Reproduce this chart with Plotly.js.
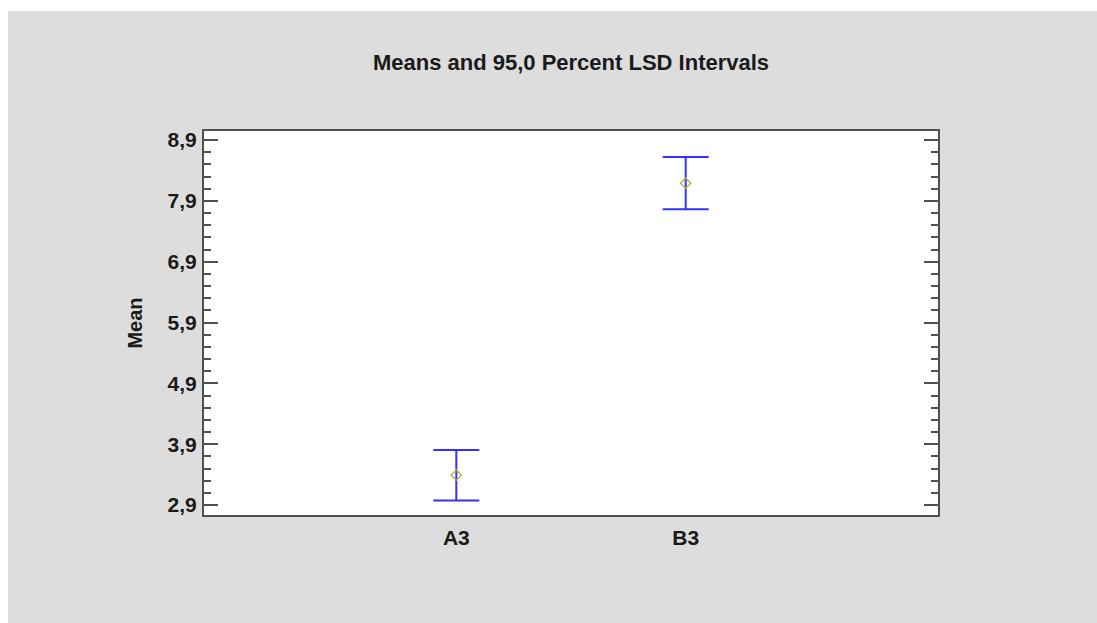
<!DOCTYPE html>
<html>
<head>
<meta charset="utf-8">
<script src="https://cdn.plot.ly/plotly-3.0.1.min.js"></script>
<style>
  html, body { margin: 0; padding: 0; background: #ffffff; width: 1097px; height: 623px; overflow: hidden; }
  #chart { position: absolute; left: 8px; top: 11px; width: 1089px; height: 612px; }
</style>
</head>
<body>
<div id="chart"></div>
<script>
const categories = ['A3', 'B3'];
const means = [3.39, 8.19];
const lsdHalf = [0.414, 0.43];
const yTickVals = [2.9, 3.9, 4.9, 5.9, 6.9, 7.9, 8.9];
const yTickText = ['2,9', '3,9', '4,9', '5,9', '6,9', '7,9', '8,9'];
const titleText = 'Means and 95,0 Percent LSD Intervals';
const yTitle = 'Mean';

const font = 'Arial, "Liberation Sans", sans-serif';
const axisColor = '#505050';

const trace = {
  type: 'scatter',
  mode: 'markers',
  x: [0, 1],
  y: means,
  error_y: {
    type: 'data',
    array: lsdHalf,
    symmetric: true,
    visible: true,
    color: 'rgb(50,50,255)',
    thickness: 2,
    width: 23
  },
  marker: {
    symbol: 'diamond-open',
    size: 8,
    color: '#b4ae3c',
    line: { width: 1.3, color: '#b4ae3c' }
  },
  hoverinfo: 'none',
  showlegend: false
};

const layout = {
  width: 1089,
  height: 612,
  paper_bgcolor: '#dddddd',
  plot_bgcolor: '#ffffff',
  separators: ',.',
  margin: { l: 196, r: 159, t: 120, b: 108, pad: 0 },
  title: {
    text: '<b>' + titleText + '</b>',
    font: { family: font, size: 22, color: '#1a1a1a' },
    x: 0.5, xref: 'paper', xanchor: 'center',
    y: 1 - 51 / 612, yref: 'container', yanchor: 'middle'
  },
  xaxis: {
    range: [-1.1, 2.1],
    tickmode: 'array',
    tickvals: [0, 1],
    ticktext: categories.map(c => '<b>' + c + '</b>'),
    tickfont: { family: font, size: 21, color: '#1a1a1a' },
    ticks: '',
    ticklabelstandoff: 3,
    showgrid: false,
    zeroline: false,
    showline: true,
    linecolor: axisColor,
    linewidth: 2,
    mirror: true
  },
  yaxis: {
    range: [2.736, 9.048],
    tickmode: 'array',
    tickvals: yTickVals,
    ticktext: yTickText.map(t => '<b>' + t + '</b>'),
    tickfont: { family: font, size: 21, color: '#1a1a1a' },
    ticks: 'inside',
    ticklen: 14,
    tickwidth: 2,
    tickcolor: axisColor,
    ticklabelstandoff: 1,
    minor: {
      tickmode: 'linear',
      tick0: 2.9,
      dtick: 0.2,
      ticks: 'inside',
      ticklen: 7,
      tickwidth: 2,
      tickcolor: axisColor,
      showgrid: false
    },
    showgrid: false,
    zeroline: false,
    showline: true,
    linecolor: axisColor,
    linewidth: 2,
    mirror: 'ticks',
    title: {
      text: '<b>' + yTitle + '</b>',
      font: { family: font, size: 20, color: '#1a1a1a' },
      standoff: 20
    },
    automargin: false
  }
};

Plotly.newPlot('chart', [trace], layout, { staticPlot: true, displayModeBar: false });
</script>
</body>
</html>
